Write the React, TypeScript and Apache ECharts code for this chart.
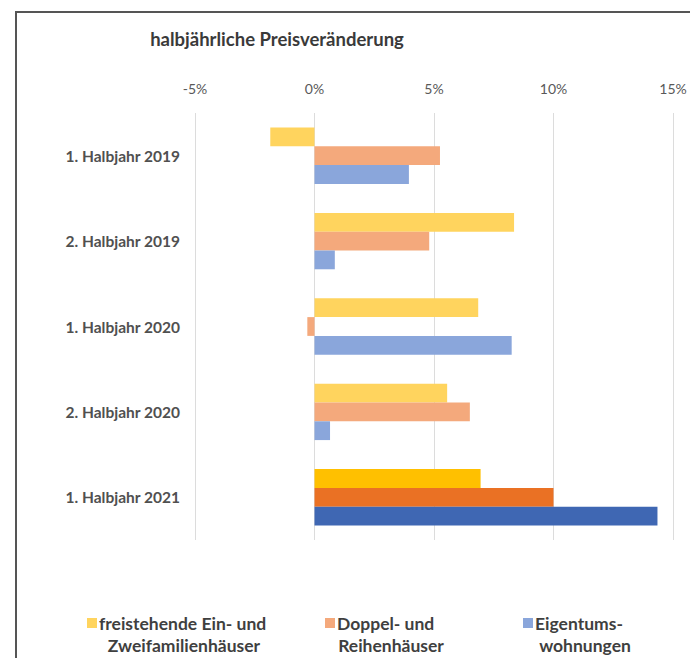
import React, { useEffect, useRef } from "react";
import * as echarts from "echarts";

const categories = ["1. Halbjahr 2019", "2. Halbjahr 2019", "1. Halbjahr 2020", "2. Halbjahr 2020", "1. Halbjahr 2021"];
const freistehend = [-1.85, 8.35, 6.85, 5.55, 6.95];
const doppel = [5.25, 4.8, -0.3, 6.5, 10.0];
const eigentum = [3.95, 0.85, 8.25, 0.65, 14.35];
const xTicks = { min: -5, max: 15, interval: 5 };

const seriesNames = ["freistehende Ein- und Zweifamilienhäuser", "Doppel- und Reihenhäuser", "Eigentums-wohnungen"];
const legendLine1 = ["freistehende Ein- und", "Doppel- und", "Eigentums-"];
const legendLine2 = ["Zweifamilienhäuser", "Reihenhäuser", "wohnungen"];
const lightColors = ["#FFD45E", "#F4A97C", "#8AA6DB"];
const darkColors = ["#FFC000", "#EA7124", "#3F67B3"];

const FONT = "Lato, 'Open Sans', sans-serif";

export default function App() {
  const ref = useRef<HTMLDivElement>(null);
  useEffect(() => {
    if (!ref.current) return;
    const chart = echarts.init(ref.current, null, { renderer: "svg" });
    const values = [freistehend, doppel, eigentum];
    const last = categories.length - 1;
    const legendLeft = [82, 320, 518];
    const line2Center = [184, 391, 585];
    chart.setOption({
      animation: false,
      backgroundColor: "#ffffff",
      textStyle: { fontFamily: FONT },
      title: {
        text: "halbjährliche Preisveränderung",
        left: 272,
        top: 24,
        textAlign: "center",
        textStyle: { fontFamily: FONT, fontSize: 18.5, fontWeight: "bold", color: "#3a3a3a" },
      },
      grid: { left: 195, right: 17, top: 113, bottom: 118 },
      xAxis: {
        type: "value",
        position: "top",
        min: xTicks.min,
        max: xTicks.max,
        interval: xTicks.interval,
        axisLine: { show: false },
        axisTick: { show: false },
        splitLine: { lineStyle: { color: "#dcdcdc", width: 1 } },
        axisLabel: { formatter: "{value}%", color: "#595959", fontSize: 14, margin: 18, fontFamily: FONT },
      },
      yAxis: {
        type: "category",
        inverse: true,
        data: categories,
        axisLine: { show: false },
        axisTick: { show: false },
        axisLabel: { color: "#505050", fontSize: 15.5, fontWeight: "bold", margin: 15, fontFamily: FONT },
      },
      legend: seriesNames.map((name, i) => ({
        data: [name],
        left: legendLeft[i],
        top: 609,
        itemWidth: 10,
        itemHeight: 10,
        itemGap: 3,
        icon: "rect",
        formatter: () => legendLine1[i],
        textStyle: { fontFamily: FONT, fontSize: 17.5, fontWeight: "bold", color: "#3f3f3f", padding: [0, 0, 0, -3] },
        selectedMode: false,
      })),
      graphic: [
        {
          type: "rect",
          shape: { x: 16, y: 12, width: 720, height: 700 },
          style: { fill: "none", stroke: "#555555", lineWidth: 2 },
          silent: true,
        },
        ...legendLine2.map((t, i) => ({
          type: "text",
          x: line2Center[i],
          y: 645,
          style: {
            text: t,
            fontFamily: FONT,
            fontSize: 17.5,
            fontWeight: "bold",
            fill: "#3f3f3f",
            align: "center",
            verticalAlign: "middle",
          },
        })),
      ],
      series: seriesNames.map((name, s) => ({
        name,
        type: "bar",
        barGap: "0%",
        barCategoryGap: "34%",
        itemStyle: { color: lightColors[s] },
        data: values[s].map((v, c) =>
          c === last ? { value: v, itemStyle: { color: darkColors[s] } } : v
        ),
      })),
    });
    return () => chart.dispose();
  }, []);
  return <div ref={ref} style={{ width: 690, height: 658, position: "absolute", left: 0, top: 0 }} />;
}
